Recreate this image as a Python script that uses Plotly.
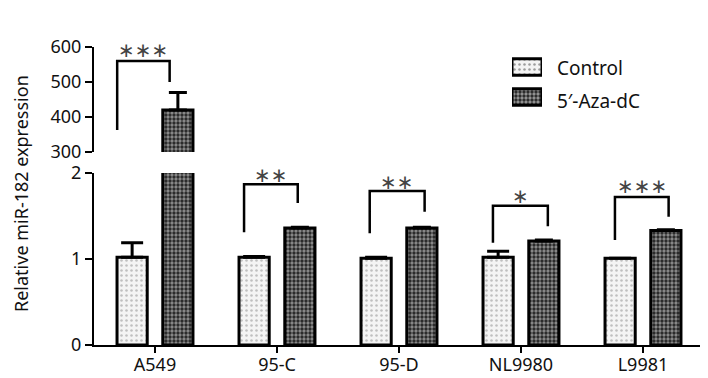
import plotly.graph_objects as go

categories = ["A549", "95-C", "95-D", "NL9980", "L9981"]
series_names = ["Control", "5′-Aza-dC"]
control_vals = [1.02, 1.02, 1.01, 1.02, 1.01]
control_err = [0.17, 0.01, 0.01, 0.07, 0.0]
aza_vals = [420, 1.36, 1.36, 1.21, 1.33]
aza_err = [50, 0.01, 0.01, 0.01, 0.01]
sig_labels = ["***", "**", "**", "*", "***"]
# bracket: top, left-bottom, right-bottom, star y (A549 on top axis)
bracket_top = [560, 1.87, 1.79, 1.62, 1.72]
bracket_left = [363, 1.31, 1.30, 1.19, 1.22]
bracket_right = [500, 1.65, 1.55, 1.38, 1.49]
star_y = [591, 1.98, 1.90, 1.73, 1.85]

FONT = "Noto Sans"
OFF = 8  # default page body margin
W, H = 708 - OFF, 378 - OFF
L, R, T, B = 94 - OFF, 4, 47 - OFF, 33
plot_h = H - T - B
plot_w = W - L - R

def py(pix):  # page pixel -> paper y
    return (H + OFF - B - pix) / plot_h

def px(pix):  # page pixel -> paper x
    return (pix - OFF - L) / plot_w

ctrl_pat = dict(shape=".", bgcolor="#f4f4f4", fgcolor="#8a8a8a", size=5, solidity=0.2)
aza_pat = dict(shape=".", bgcolor="#222222", fgcolor="#ececec", size=4, solidity=0.55)
ctrl_marker = dict(color="#f4f4f4", pattern=ctrl_pat, line=dict(color="black", width=3))
aza_marker = dict(color="#222222", pattern=aza_pat, line=dict(color="black", width=3))

fig = go.Figure()
for yax in ("y", "y2"):
    fig.add_trace(go.Bar(
        x=categories, y=control_vals, name=series_names[0], yaxis=yax, showlegend=False,
        marker=ctrl_marker,
        error_y=dict(type="data", array=control_err, arrayminus=[0]*5, symmetric=False,
                     color="black", thickness=3, width=11),
    ))
    fig.add_trace(go.Bar(
        x=categories, y=aza_vals, name=series_names[1], yaxis=yax, showlegend=False,
        marker=aza_marker,
        error_y=dict(type="data", array=aza_err, arrayminus=[0]*5, symmetric=False,
                     color="black", thickness=3, width=9),
    ))

# custom legend swatches
fig.add_trace(go.Bar(x=[1, 1], y=[1, 0], orientation="h", xaxis="x3", yaxis="y3", width=0.55,
                     marker=dict(color=["#f4f4f4", "#222222"],
                                 pattern=dict(shape=".", bgcolor=["#f4f4f4", "#222222"],
                                              fgcolor=["#8a8a8a", "#ececec"], size=[5, 4],
                                              solidity=[0.2, 0.55]),
                                 line=dict(color="black", width=3)),
                     showlegend=False, hoverinfo="skip"))
for k, nm in enumerate(series_names):
    fig.add_annotation(x=px(555), y=py(68 + 33 * k), xref="paper", yref="paper", text=nm,
                       xanchor="left", yanchor="middle", showarrow=False,
                       font=dict(family=FONT, size=19, color="#111"))

left_off = [-0.31, -0.27, -0.24, -0.23, -0.23]
right_off = [0.12, 0.17, 0.21, 0.22, 0.21]
for i, c in enumerate(categories):
    yref = "y2" if i == 0 else "y"
    xl, xr = i + left_off[i], i + right_off[i]
    fig.add_shape(type="path", xref="x", yref=yref,
                  path=f"M {xl},{bracket_left[i]} L {xl},{bracket_top[i]} L {xr},{bracket_top[i]} L {xr},{bracket_right[i]}",
                  line=dict(color="black", width=2.5))
    fig.add_annotation(x=(xl + xr) / 2, y=star_y[i], xref="x", yref=yref,
                       text="∗" * len(sig_labels[i]), showarrow=False,
                       yanchor="middle", font=dict(family="DejaVu Sans", size=20, color="#444"))

fig.add_annotation(x=px(21), y=py(194), xref="paper", yref="paper", text="Relative miR-182 expression",
                   textangle=-90, xanchor="center", yanchor="middle", showarrow=False,
                   font=dict(family=FONT, size=18, color="#111"))

axis_common = dict(showline=True, linecolor="black", linewidth=2, ticks="outside", ticklen=7,
                   tickwidth=2, tickcolor="black", showgrid=False, zeroline=False,
                   tickfont=dict(size=18), automargin=False)

fig.update_layout(
    width=W, height=H, margin=dict(l=L, r=R, t=T, b=B, autoexpand=False),
    paper_bgcolor="white", plot_bgcolor="white",
    barmode="group", bargap=0.25, bargroupgap=0.34,
    font=dict(family=FONT, size=18, color="#111"),
    showlegend=False,
    xaxis=dict(range=[-0.5, 4.5], **{**axis_common, "ticklen": 6, "ticklabelstandoff": -4}),
    yaxis=dict(domain=[0, py(173)], range=[0, 2], tickvals=[0, 1, 2], **axis_common),
    yaxis2=dict(domain=[py(152), 1], range=[300, 600], tickvals=[300, 400, 500, 600],
                anchor="x", **axis_common),
    xaxis3=dict(domain=[px(512), px(542)], range=[0, 1], visible=False, anchor="y3"),
    yaxis3=dict(domain=[py(112), py(52)], range=[-0.5, 1.5], visible=False, anchor="x3"),
)
fig.write_html("out.html")
